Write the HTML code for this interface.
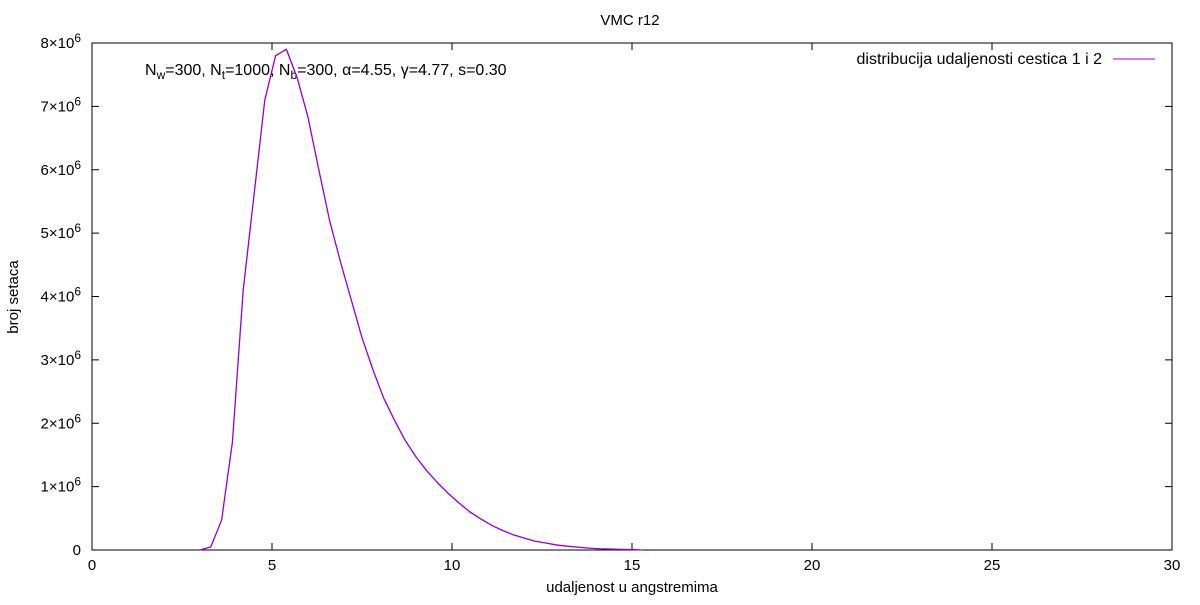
<!DOCTYPE html>
<html><head><meta charset="utf-8"><style>
body{margin:0;background:#fff;}
svg{font-family:"Liberation Sans",Arial,sans-serif;}
</style></head><body>
<svg id="chart" width="1200" height="600">
<rect width="1200" height="600" fill="#fff"/>
<text x="630" y="25" font-size="15" text-anchor="middle">VMC r12</text>
<rect x="92" y="43" width="1080" height="507" fill="none" stroke="#000" stroke-width="1"/>
<g id="axes"></g>
<text x="632" y="592" font-size="15" text-anchor="middle">udaljenost u angstremima</text>
<text transform="translate(18,297) rotate(-90)" font-size="15" text-anchor="middle">broj setaca</text>
<text x="145" y="75" font-size="16">N<tspan font-size="12" dy="4">w</tspan><tspan dy="-4">=300, N</tspan><tspan font-size="12" dy="4">t</tspan><tspan dy="-4">=1000, N</tspan><tspan font-size="12" dy="4">b</tspan><tspan dy="-4">=300, α=4.55, γ=4.77, s=0.30</tspan></text>
<g>
<text x="1102" y="64" font-size="16" text-anchor="end">distribucija udaljenosti cestica 1 i 2</text>
<line x1="1113" y1="59" x2="1155" y2="59" stroke="#9400d3" stroke-width="1"/>
</g>
<polyline id="series" fill="none" stroke="#9400d3" stroke-width="1.3"/>
</svg>
<script>
const xs = [3.0,3.3,3.6,3.9,4.2,4.5,4.8,5.1,5.4,5.7,6.0,6.3,6.6,6.9,7.2,7.5,7.8,8.1,8.4,8.7,9.0,9.3,9.6,9.9,10.2,10.5,10.8,11.1,11.4,11.7,12.0,12.3,12.6,12.9,13.2,13.5,13.8,14.1,14.4,14.7,15.0,15.3];
const counts = [0,0.05,0.47,1.7,4.1,5.6,7.1,7.8,7.9,7.45,6.83,6.0,5.2,4.55,3.95,3.35,2.85,2.4,2.05,1.73,1.47,1.25,1.06,0.89,0.74,0.6,0.49,0.39,0.31,0.24,0.19,0.14,0.11,0.08,0.06,0.045,0.03,0.02,0.015,0.01,0.008,0.0];
const xTicks = [0,5,10,15,20,25,30];
const yTicks = [0,1,2,3,4,5,6,7,8];
const X = v => 92 + v*36;
const Y = v => 550 - v*63.375;
const ns = "http://www.w3.org/2000/svg";
const ax = document.getElementById('axes');
function mk(tag, attrs){const e=document.createElementNS(ns,tag);for(const k in attrs)e.setAttribute(k,attrs[k]);return e;}
xTicks.forEach(t=>{
  const x=X(t);
  const a=mk('line',{x1:x,y1:550,x2:x,y2:543,stroke:'#000'});
  
  
  ax.appendChild(a);
  const b=mk('line',{x1:x,y1:43,x2:x,y2:50,stroke:'#000'});
  
  
  ax.appendChild(b);
  const l=mk('text',{x:x,y:570,'font-size':15,'text-anchor':'middle'});
  l.textContent=t;
  
  
  ax.appendChild(l);
});
yTicks.forEach(t=>{
  const y=Y(t);
  const a=mk('line',{x1:92,y1:y,x2:99,y2:y,stroke:'#000'});
  
  
  ax.appendChild(a);
  const b=mk('line',{x1:1172,y1:y,x2:1165,y2:y,stroke:'#000'});
  
  
  ax.appendChild(b);
  const l=mk('text',{x:81,y:y+5,'font-size':15,'text-anchor':'end'});
  if(t===0){l.textContent='0';}
  else{
    l.textContent=t+'×10';
    const s=mk('tspan',{'font-size':12,dy:-6});
    s.textContent='6';
    l.appendChild(s);
  }
  
  
  ax.appendChild(l);
});
document.getElementById('series').setAttribute('points', xs.map((x,i)=>X(x)+','+Y(counts[i])).join(' '));
</script>
</body></html>
